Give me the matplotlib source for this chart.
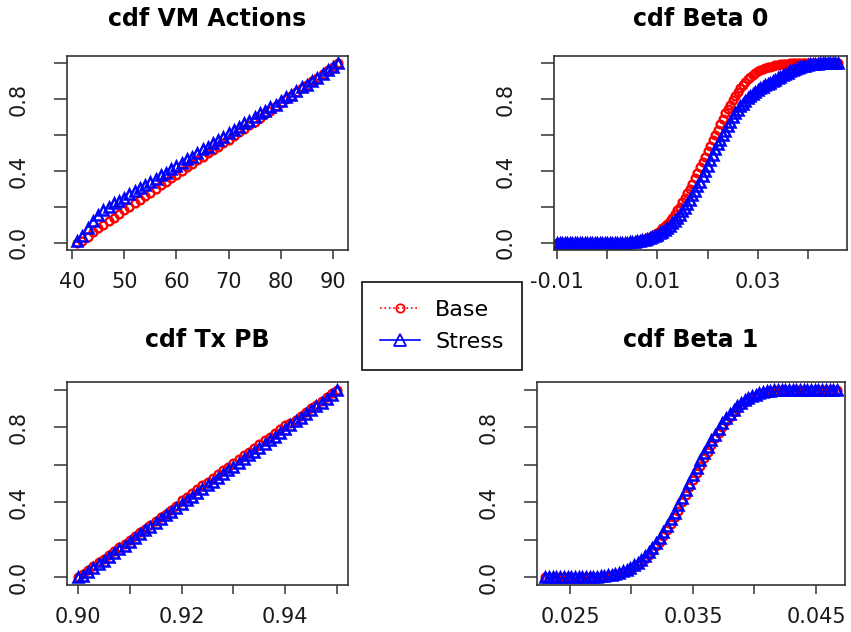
import numpy as np
import matplotlib
matplotlib.use("Agg")
import matplotlib.pyplot as plt
from matplotlib.lines import Line2D

# evaluation grids for each cdf
vm_x = np.arange(41, 92)
txpb_x = np.linspace(0.900, 0.950, 51)
beta0_x = np.linspace(-0.010, 0.046, 113)
beta1_x = np.linspace(0.0230, 0.0467, 80)

# cdf values, base scenario vs stress scenario
vm_base = [0.00, 0.01, 0.03, 0.06, 0.08, 0.10, 0.12, 0.14, 0.16, 0.18,
           0.20, 0.22, 0.24, 0.26, 0.28, 0.30, 0.32, 0.34, 0.36, 0.38,
           0.40, 0.42, 0.44, 0.46, 0.48, 0.50, 0.515, 0.535, 0.555, 0.575,
           0.595, 0.615, 0.635, 0.655, 0.675, 0.695, 0.715, 0.735, 0.76, 0.78,
           0.80, 0.82, 0.84, 0.86, 0.88, 0.90, 0.92, 0.94, 0.96, 0.98, 1.00]
vm_stress = [0.01, 0.04, 0.08, 0.12, 0.155, 0.18, 0.20, 0.22, 0.235, 0.25,
             0.27, 0.29, 0.305, 0.32, 0.34, 0.355, 0.375, 0.39, 0.41, 0.43,
             0.445, 0.465, 0.48, 0.50, 0.52, 0.535, 0.555, 0.575, 0.59, 0.61,
             0.63, 0.645, 0.665, 0.68, 0.70, 0.72, 0.735, 0.755, 0.77, 0.79,
             0.81, 0.825, 0.845, 0.865, 0.88, 0.90, 0.92, 0.94, 0.96, 0.98, 1.00]

txpb_base = [0.00, 0.02, 0.04, 0.06, 0.08, 0.10, 0.12, 0.14, 0.16, 0.18,
             0.20, 0.22, 0.24, 0.26, 0.28, 0.30, 0.32, 0.34, 0.36, 0.38,
             0.41, 0.43, 0.45, 0.47, 0.49, 0.51, 0.53, 0.55, 0.57, 0.59,
             0.61, 0.63, 0.65, 0.67, 0.69, 0.71, 0.73, 0.75, 0.77, 0.79,
             0.81, 0.82, 0.84, 0.86, 0.88, 0.90, 0.92, 0.94, 0.96, 0.98, 1.00]
txpb_stress = [0.00, 0.01, 0.03, 0.05, 0.07, 0.09, 0.11, 0.13, 0.15, 0.17,
               0.19, 0.21, 0.23, 0.25, 0.27, 0.29, 0.31, 0.33, 0.35, 0.37,
               0.39, 0.41, 0.43, 0.45, 0.47, 0.49, 0.51, 0.53, 0.55, 0.57,
               0.59, 0.61, 0.63, 0.65, 0.67, 0.69, 0.71, 0.73, 0.75, 0.77,
               0.79, 0.81, 0.83, 0.85, 0.87, 0.89, 0.91, 0.93, 0.95, 0.97, 1.00]

beta0_base = [0, 0, 0, 0, 0, 0, 0, 0, 0, 0,
              0, 0, 0, 0, 0, 0, 0, 0, 0, 0,
              0, 0, 0, 0, 0, 0, 0, 0, 0, 0,
              0.005, 0.007, 0.010, 0.013, 0.017, 0.022, 0.027, 0.033, 0.040, 0.048,
              0.057, 0.068, 0.080, 0.093, 0.107, 0.122, 0.140, 0.160, 0.180, 0.200,
              0.225, 0.250, 0.275, 0.300, 0.330, 0.360, 0.390, 0.420, 0.450, 0.480,
              0.510, 0.540, 0.570, 0.600, 0.630, 0.660, 0.690, 0.720, 0.745, 0.770,
              0.795, 0.820, 0.840, 0.860, 0.880, 0.895, 0.910, 0.922, 0.934, 0.945,
              0.955, 0.962, 0.968, 0.973, 0.977, 0.981, 0.985, 0.988, 0.990, 0.993,
              0.995, 0.997, 0.998, 0.999, 1, 1, 1, 1, 1, 1,
              1, 1, 1, 1, 1, 1, 1, 1, 1, 1,
              1, 1, 1]
beta0_stress = [0, 0, 0, 0, 0, 0, 0, 0, 0, 0,
                0, 0, 0, 0, 0, 0, 0, 0, 0, 0,
                0, 0, 0, 0, 0, 0, 0, 0, 0, 0.002,
                0.004, 0.006, 0.008, 0.011, 0.014, 0.018, 0.022, 0.027, 0.032, 0.038,
                0.045, 0.053, 0.062, 0.072, 0.083, 0.095, 0.108, 0.122, 0.138, 0.155,
                0.175, 0.195, 0.215, 0.240, 0.265, 0.290, 0.315, 0.340, 0.370, 0.400,
                0.430, 0.460, 0.490, 0.520, 0.550, 0.575, 0.600, 0.625, 0.650, 0.675,
                0.700, 0.720, 0.740, 0.760, 0.775, 0.790, 0.805, 0.818, 0.830, 0.840,
                0.850, 0.860, 0.868, 0.876, 0.884, 0.892, 0.900, 0.908, 0.916, 0.924,
                0.932, 0.940, 0.947, 0.954, 0.960, 0.966, 0.972, 0.977, 0.982, 0.986,
                0.990, 0.993, 0.995, 0.997, 0.998, 0.999, 1, 1, 1, 1,
                1, 1, 1]

beta1_base = [0, 0, 0, 0, 0, 0, 0, 0, 0, 0.001,
              0.001, 0.002, 0.002, 0.003, 0.004, 0.005, 0.007, 0.009, 0.012, 0.016,
              0.021, 0.027, 0.035, 0.044, 0.055, 0.068, 0.083, 0.100, 0.120, 0.140,
              0.165, 0.190, 0.220, 0.250, 0.285, 0.320, 0.355, 0.400, 0.440, 0.480,
              0.520, 0.555, 0.595, 0.635, 0.670, 0.705, 0.740, 0.770, 0.800, 0.830,
              0.855, 0.878, 0.898, 0.916, 0.932, 0.946, 0.958, 0.968, 0.976, 0.982,
              0.987, 0.991, 0.994, 0.996, 0.997, 0.998, 0.999, 1, 1, 1,
              1, 1, 1, 1, 1, 1, 1, 1, 1, 1]
beta1_stress = [0, 0, 0, 0, 0, 0, 0, 0, 0, 0.001,
                0.002, 0.002, 0.003, 0.004, 0.005, 0.006, 0.008, 0.011, 0.015, 0.019,
                0.025, 0.032, 0.041, 0.051, 0.064, 0.078, 0.095, 0.113, 0.133, 0.157,
                0.182, 0.210, 0.240, 0.273, 0.310, 0.345, 0.383, 0.425, 0.465, 0.505,
                0.545, 0.585, 0.625, 0.660, 0.695, 0.730, 0.760, 0.790, 0.820, 0.847,
                0.870, 0.892, 0.910, 0.927, 0.942, 0.954, 0.965, 0.973, 0.980, 0.985,
                0.990, 0.993, 0.995, 0.997, 0.998, 0.999, 1, 1, 1, 1,
                1, 1, 1, 1, 1, 1, 1, 1, 1, 1]

titles = ["cdf VM Actions", "cdf Beta 0", "cdf Tx PB", "cdf Beta 1"]
series = [(vm_x, vm_base, vm_stress),
          (beta0_x, beta0_base, beta0_stress),
          (txpb_x, txpb_base, txpb_stress),
          (beta1_x, beta1_base, beta1_stress)]
xticks = [[40, 50, 60, 70, 80, 90],
          [-0.01, 0.0, 0.01, 0.02, 0.03, 0.04],
          [0.90, 0.91, 0.92, 0.93, 0.94, 0.95],
          [0.025, 0.030, 0.035, 0.040, 0.045]]
xticklabels = [["40", "50", "60", "70", "80", "90"],
               ["-0.01", "", "0.01", "", "0.03", ""],
               ["0.90", "", "0.92", "", "0.94", ""],
               ["0.025", "", "0.035", "", "0.045"]]
xlims = [(39.04, 92.87), (-0.0106, 0.0478), (0.8979, 0.9521), (0.02232, 0.04736)]
yticks = [0.0, 0.2, 0.4, 0.6, 0.8, 1.0]
yticklabels = ["0.0", "", "0.4", "", "0.8", ""]

# panel boxes in pixels: left, top, right, bottom
W, H = 851, 632
boxes = [(67, 56, 348, 250), (554, 56, 847, 250),
         (67, 382, 348, 585), (537, 382, 845, 585)]
title_pads = [21.5, 21.5, 25, 25]

fig = plt.figure(figsize=(W / 100, H / 100), dpi=100)
ink = "#1a1a1a"

for k in range(4):
    l, t, r, b = boxes[k]
    ax = fig.add_axes([l / W, 1 - b / H, (r - l) / W, (b - t) / H])
    x, base, stress = series[k]
    ax.plot(x, base, linestyle="none", marker="o", markersize=5.6,
            mfc="none", mec="red", mew=1.7)
    ax.plot(x, stress, linestyle="none", marker="^", markersize=7.6,
            mfc="none", mec="blue", mew=1.8)
    ax.set_xlim(*xlims[k])
    ax.set_ylim(-0.04, 1.04)
    ax.set_xticks(xticks[k])
    ax.set_xticklabels(xticklabels[k])
    ax.set_yticks(yticks)
    ax.set_yticklabels(yticklabels, rotation=90, va="center")
    ax.tick_params(axis="x", length=6.5, width=1.1, pad=9, labelsize=15,
                   color="#333333", labelcolor=ink)
    ax.tick_params(axis="y", length=9.5, width=1.1, pad=18, labelsize=15,
                   color="#333333", labelcolor=ink)
    for sp in ax.spines.values():
        sp.set_linewidth(1.2)
        sp.set_color("#333333")
    ax.set_title(titles[k], fontsize=17, fontweight="bold", pad=title_pads[k])

handles = [Line2D([], [], color="red", linestyle=":", linewidth=1.2,
                  marker="o", markersize=6, mfc="none", mew=1.3),
           Line2D([], [], color="blue", linestyle="-", linewidth=1.2,
                  marker="^", markersize=8, mfc="none", mew=1.3)]
leg = fig.legend(handles, ["Base", "Stress"], loc="upper left",
                 bbox_to_anchor=(362 / W, 1 - 282 / H), borderaxespad=0,
                 fontsize=16, frameon=True, fancybox=False, framealpha=1,
                 edgecolor="#222222", borderpad=0.8, handlelength=1.8,
                 handletextpad=0.7, labelspacing=0.55)
leg.get_frame().set_linewidth(1.3)

fig.savefig("out.png", dpi=100)
